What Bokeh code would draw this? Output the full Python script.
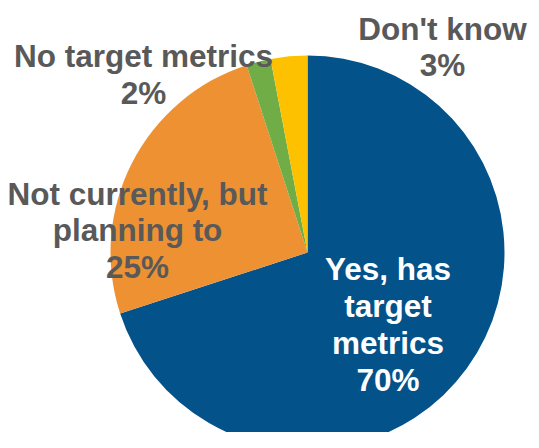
import math
from bokeh.plotting import figure
from bokeh.models import Range1d, ColumnDataSource
from bokeh.core.properties import value
from bokeh.embed import file_html
from bokeh.resources import INLINE

# ---- data ----
categories = ["Yes, has target metrics", "Not currently, but planning to",
              "No target metrics", "Don't know"]
shares = [70, 25, 2, 3]
label_lines = [["Yes, has", "target", "metrics"],
               ["Not currently, but", "planning to"],
               ["No target metrics"],
               ["Don't know"]]
colors = ["#03528A", "#ED9133", "#70AD47", "#FDC100"]
text_colors = ["#FFFFFF", "#595959", "#595959", "#595959"]

# ---- layout (picture pixel coordinates) ----
W, H = 531, 432
center = (307, 252)
radius = 197
# label anchor: (center x, first baseline, line spacing)
label_pos = [(387.5, 268, 37.3), (137, 193, 36.5), (143, 55, 37), (442, 28, 36)]

p = figure(width=W, height=H, output_backend="svg", toolbar_location=None,
           x_range=Range1d(0, W), y_range=Range1d(-H, 0),
           min_border=0)
p.axis.visible = False
p.grid.visible = False
p.outline_line_color = None
p.background_fill_color = "white"
p.border_fill_color = "white"

total = sum(shares)
starts, ends = [], []
cum = 0.0
for s in shares:
    starts.append(math.pi / 2 - 2 * math.pi * cum / total)
    cum += s
    ends.append(math.pi / 2 - 2 * math.pi * cum / total)

src = ColumnDataSource(dict(cat=categories, start=starts, end=ends, color=colors))
p.wedge(x=center[0], y=-center[1], radius=radius, start_angle="start",
        end_angle="end", direction="clock", fill_color="color",
        line_color=None, source=src)

xs, ys, txt, tc = [], [], [], []
for i, cat in enumerate(categories):
    lines = label_lines[i] + [f"{shares[i]}%"]
    cx, b0, sp = label_pos[i]
    for j, ln in enumerate(lines):
        xs.append(cx)
        ys.append(-(b0 + j * sp))
        txt.append(ln)
        tc.append(text_colors[i])

p.text(x=xs, y=ys, text=txt, text_color=tc, text_align="center",
       text_baseline="alphabetic", text_font=value("Liberation Sans"),
       text_font_size="31.5px", text_font_style="bold")

open("out.html", "w").write(file_html(p, INLINE))
